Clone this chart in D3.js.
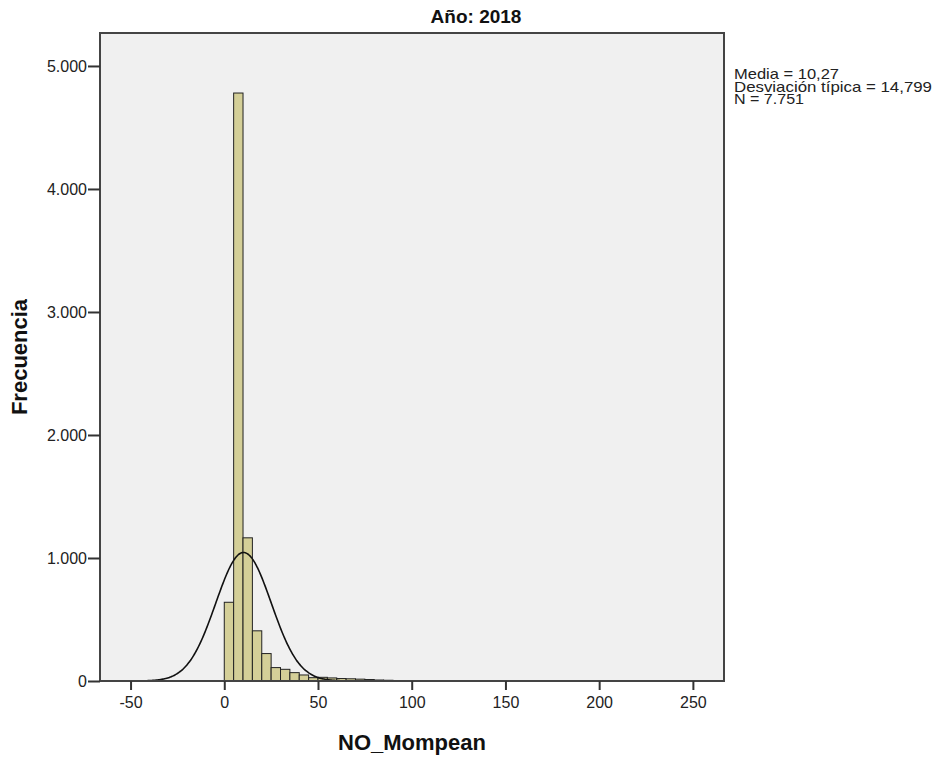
<!DOCTYPE html>
<html><head><meta charset="utf-8">
<script src="https://cdn.jsdelivr.net/npm/d3@7"></script>
<style>body{margin:0;background:#fff;} svg{display:block;font-family:"Liberation Sans",Arial,sans-serif;}</style>
</head><body>
<svg id="c" width="938" height="758"></svg>
<script>
// Histogram bins (lower edge, width 5) and frequencies
const binStarts = [0,5,10,15,20,25,30,35,40,45,50,55,60,65,70,75,80,85,90,95,100,105,110,120,130,145,160,175,200,245];
const binCounts = [640,4780,1164,408,223,109,95,68,49,27,30,25,20,18,15,12,8,6,4,3,2,2,1,1,1,1,1,1,1,1];
const binWidth = 5;
const xTicks = [-50,0,50,100,150,200,250];
const xTickLabels = ["-50","0","50","100","150","200","250"];
const yTicks = [0,1000,2000,3000,4000,5000];
const yTickLabels = ["0","1.000","2.000","3.000","4.000","5.000"];
const stats = {mean:10.27, sd:14.799, n:7751};
const legendLines = ["Media = 10,27","Desviación típica = 14,799","N = 7.751"];
const title = "Año: 2018";
const xLabel = "NO_Mompean";
const yLabel = "Frecuencia";

const svg = d3.select("#c");
const L=100, R=724, T=33, B=681;
const x = d3.scaleLinear().domain([-66.3, 266.6]).range([L, R]);
const y = d3.scaleLinear().domain([0, 5268]).range([B, T]);

svg.append("rect").attr("x",L).attr("y",T).attr("width",R-L).attr("height",B-T).attr("fill","#f0f0f0");
svg.append("clipPath").attr("id","clip").append("rect").attr("x",L).attr("y",T).attr("width",R-L).attr("height",B-T);

const g = svg.append("g").attr("clip-path","url(#clip)");
g.selectAll("rect.bar").data(binStarts.map((s,i)=>({s,c:binCounts[i]}))).join("rect")
  .attr("class","bar")
  .attr("x",d=>x(d.s)).attr("width",d=>x(d.s+binWidth)-x(d.s))
  .attr("y",d=>y(d.c)).attr("height",d=>B-y(d.c))
  .attr("fill","#d4cf98").attr("stroke","#222").attr("stroke-width",1);

// Normal curve
const pts = d3.range(-66.3, 266.7, 0.5).map(v=>{
  const z=(v-stats.mean)/stats.sd;
  return [v, stats.n*binWidth/(stats.sd*Math.sqrt(2*Math.PI))*Math.exp(-0.5*z*z)];
});
g.append("path").datum(pts).attr("fill","none").attr("stroke","#111").attr("stroke-width",1.6)
  .attr("d", d3.line().x(d=>x(d[0])).y(d=>y(d[1])).curve(d3.curveBasis));

// frame
svg.append("rect").attr("x",L).attr("y",T).attr("width",R-L).attr("height",B-T)
  .attr("fill","none").attr("stroke","#444").attr("stroke-width",2);

// axes
const xa = svg.append("g").attr("transform",`translate(0,${B})`)
  .call(d3.axisBottom(x).tickValues(xTicks).tickSize(9).tickFormat((d,i)=>xTickLabels[i]));
xa.select(".domain").remove();
xa.selectAll("line").attr("stroke","#333").attr("stroke-width",2);
xa.selectAll("text").attr("font-size",16).attr("fill","#222").attr("font-family","Liberation Sans, Arial").attr("y",12).attr("dy","0.95em");

const ya = svg.append("g").attr("transform",`translate(${L},0)`)
  .call(d3.axisLeft(y).tickValues(yTicks).tickSize(12).tickFormat((d,i)=>yTickLabels[i]));
ya.select(".domain").remove();
ya.selectAll("line").attr("stroke","#333").attr("stroke-width",2);
ya.selectAll("text").attr("font-size",16).attr("fill","#222").attr("font-family","Liberation Sans, Arial").attr("x",-13);

svg.append("text").attr("x",476).attr("y",23).attr("text-anchor","middle")
  .attr("font-weight","bold").attr("font-size",19).attr("fill","#111").text(title);
svg.append("text").attr("x",412).attr("y",750).attr("text-anchor","middle")
  .attr("font-weight","bold").attr("font-size",22).attr("fill","#111").text(xLabel);
svg.append("text").attr("transform","translate(27,357) rotate(-90)").attr("text-anchor","middle")
  .attr("font-weight","bold").attr("font-size",22).attr("fill","#111").text(yLabel);

const legendWidths = [105, 198, 70];
svg.append("g").selectAll("text").data(legendLines).join("text")
  .attr("x",734).attr("y",(d,i)=>79+i*12.5).attr("font-size",15).attr("fill","#222")
  .attr("textLength",(d,i)=>legendWidths[i]).attr("lengthAdjust","spacingAndGlyphs").text(d=>d);
</script>
</body></html>
